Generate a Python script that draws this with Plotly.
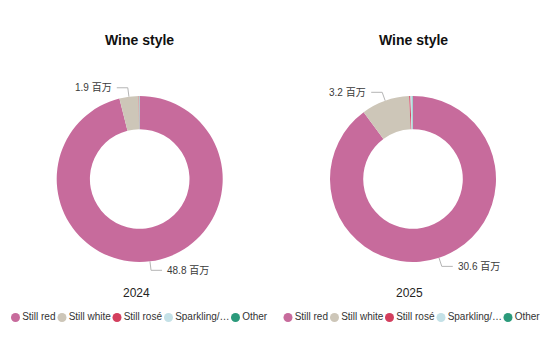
import math
import plotly.graph_objects as go

W, H = 547, 342

# ---- data ----
categories = ["Still red", "Still white", "Still rosé", "Sparkling/…", "Other"]
colors = ["#C76B9C", "#CDC6B8", "#D33F5E", "#C4E1E7", "#2B9A7B"]
years = ["2024", "2025"]
values_2024 = [48.8, 1.9, 0.03, 0.05, 0.02]
values_2025 = [30.6, 3.2, 0.08, 0.15, 0.02]
labelled = [0, 1]          # slices that carry a value label
unit = "百万"
chart_title = "Wine style"

# ---- layout constants (pixels) ----
FONT = "Liberation Sans, Arial, Noto Sans CJK SC, sans-serif"
centers = [(139.7, 179.0), (413.0, 179.0)]
R = 83.0
HOLE = 0.6
title_y = 40
year_pos = [(136, 293), (409, 293)]
legend_y = 317.5
legend_base = [15.5, 288.0]
legend_offsets = [0, 46.5, 101.5, 153, 220]

fig = go.Figure()

series = [values_2024, values_2025]
for k, vals in enumerate(series):
    cx, cy = centers[k]
    fig.add_trace(go.Pie(
        labels=categories, values=vals, sort=False, direction="clockwise",
        rotation=0, hole=HOLE, textinfo="none", hoverinfo="label+value",
        marker=dict(colors=colors, line=dict(width=0)),
        domain=dict(x=[(cx - R) / W, (cx + R) / W],
                    y=[1 - (cy + R) / H, 1 - (cy - R) / H]),
        showlegend=False,
    ))

annotations = []
shapes_traces = []
for k, vals in enumerate(series):
    cx, cy = centers[k]
    total = sum(vals)
    cum = 0.0
    for i, v in enumerate(vals):
        mid = (cum + v / 2) / total * 2 * math.pi
        cum += v
        if i not in labelled:
            continue
        s, c = math.sin(mid), -math.cos(mid)
        p0 = (cx + s * R, cy + c * R)
        p1 = (cx + s * (R + 9), cy + c * (R + 9))
        side = 1 if s >= 0 else -1
        p2 = (p1[0] + side * 11, p1[1])
        fig.add_trace(go.Scatter(
            x=[p0[0], p1[0], p2[0]], y=[p0[1], p1[1], p2[1]],
            mode="lines", line=dict(color="#B5B5B5", width=1),
            hoverinfo="skip", showlegend=False, xaxis="x", yaxis="y"))
        annotations.append(dict(
            x=p2[0] + side * 3, y=p2[1], xref="x", yref="y",
            text=f"{v:.1f} {unit}", showarrow=False,
            xanchor="left" if side > 0 else "right", yanchor="middle",
            font=dict(family=FONT, size=10, color="#3A3A3A")))

    # title and year
    annotations.append(dict(
        x=cx, y=title_y, xref="x", yref="y", text=f"<b>{chart_title}</b>",
        showarrow=False, xanchor="center", yanchor="middle",
        font=dict(family=FONT, size=14, color="#111111")))
    annotations.append(dict(
        x=year_pos[k][0], y=year_pos[k][1], xref="x", yref="y", text=years[k],
        showarrow=False, xanchor="center", yanchor="middle",
        font=dict(family=FONT, size=12, color="#252423")))

    # legend
    for i, cat in enumerate(categories):
        fig.add_trace(go.Scatter(
            x=[legend_base[k] + legend_offsets[i]], y=[legend_y],
            mode="markers+text", text=[cat], textposition="middle right",
            textfont=dict(family=FONT, size=10, color="#333333"),
            marker=dict(size=9, color=colors[i]),
            hoverinfo="skip", showlegend=False, xaxis="x", yaxis="y"))

fig.update_layout(
    width=W, height=H,
    margin=dict(l=0, r=0, t=0, b=0, pad=0),
    paper_bgcolor="white", plot_bgcolor="rgba(0,0,0,0)",
    xaxis=dict(range=[0, W], visible=False, domain=[0, 1], fixedrange=True),
    yaxis=dict(range=[H, 0], visible=False, domain=[0, 1], fixedrange=True),
    annotations=annotations,
    font=dict(family=FONT),
)

fig.write_html("out.html")
